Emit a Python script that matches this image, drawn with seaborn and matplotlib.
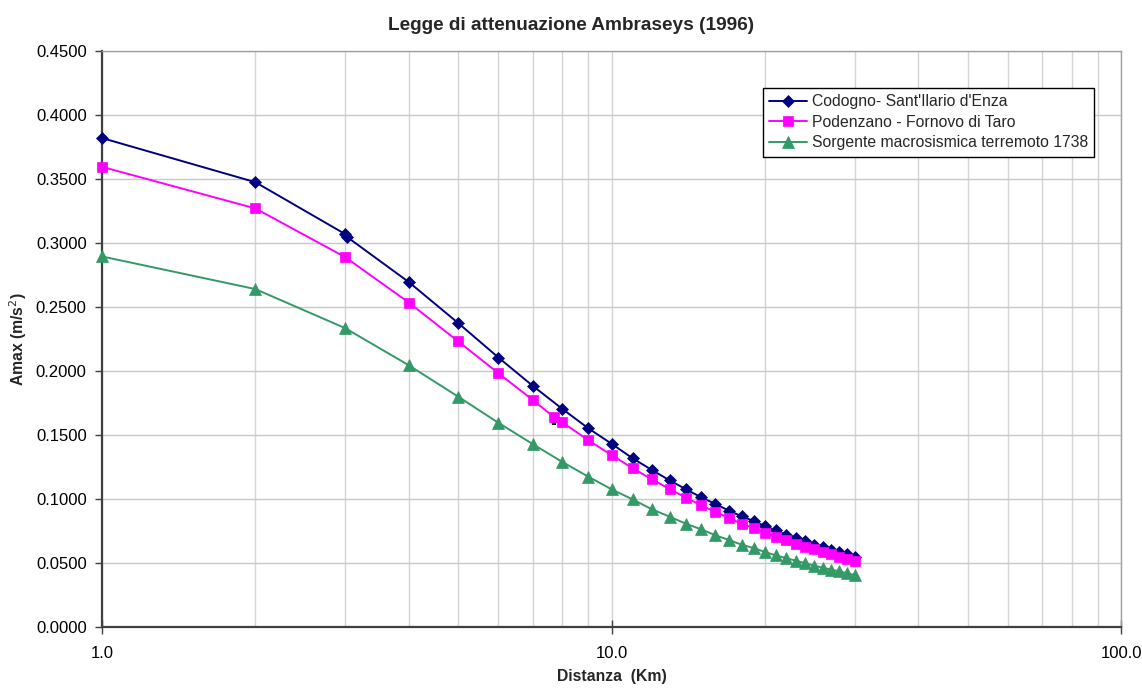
import matplotlib
matplotlib.use("Agg")
import matplotlib.pyplot as plt
import matplotlib.ticker as mticker
import seaborn as sns
import numpy as np

# ---- data ----
labels = ["Codogno- Sant'Ilario d'Enza",
          "Podenzano - Fornovo di Taro",
          "Sorgente macrosismica terremoto 1738"]

x_codogno = [1, 2, 3, 3.02, 4, 5, 6, 7, 8, 9, 10, 11, 12, 13, 14, 15, 16, 17, 18, 19, 20,
             21, 22, 23, 24, 25, 26, 27, 28, 29, 30]
y_codogno = [0.3820, 0.3475, 0.3070, 0.3050, 0.2695, 0.2375, 0.2105, 0.1885, 0.1705, 0.1553,
             0.1432, 0.1318, 0.1227, 0.1146, 0.1076, 0.1013, 0.0961, 0.0909, 0.0865, 0.0828,
             0.0789, 0.0755, 0.0721, 0.0695, 0.0669, 0.0643, 0.0622, 0.0602, 0.0583, 0.0568,
             0.0549]

x_podenzano = [1, 2, 3, 4, 5, 6, 7, 7.72, 8, 9, 10, 11, 12, 13, 14, 15, 16, 17, 18, 19, 20,
               21, 22, 23, 24, 25, 26, 27, 28, 29, 30]
y_podenzano = [0.3595, 0.3270, 0.2890, 0.2535, 0.2232, 0.1982, 0.1775, 0.1638, 0.1600, 0.1460,
               0.1344, 0.1240, 0.1154, 0.1078, 0.1010, 0.0951, 0.0898, 0.0852, 0.0807, 0.0773,
               0.0737, 0.0706, 0.0680, 0.0651, 0.0628, 0.0607, 0.0586, 0.0568, 0.0549, 0.0534,
               0.0513]

x_sorgente = [1, 2, 3, 4, 5, 6, 7, 8, 9, 10, 11, 12, 13, 14, 15, 16, 17, 18, 19, 20,
              21, 22, 23, 24, 25, 26, 27, 28, 29, 30]
y_sorgente = [0.2895, 0.2640, 0.2335, 0.2045, 0.1800, 0.1595, 0.1430, 0.1290, 0.1175, 0.1076,
              0.0997, 0.0920, 0.0862, 0.0807, 0.0763, 0.0716, 0.0680, 0.0643, 0.0617, 0.0586,
              0.0560, 0.0539, 0.0518, 0.0498, 0.0479, 0.0463, 0.0448, 0.0435, 0.0420, 0.0406]

x_stray = [7.72]
y_stray = [0.1590]

title = "Legge di attenuazione Ambraseys (1996)"
xlabel = "Distanza  (Km)"
ylabel = "Amax (m/s$^2$)"
yticks = [0.0, 0.05, 0.10, 0.15, 0.20, 0.25, 0.30, 0.35, 0.40, 0.45]
xticks = [1, 10, 100]

# ---- style ----
sns.set_theme(style="white")
plt.rcParams['font.family'] = ['Liberation Sans', 'DejaVu Sans']

fig = plt.figure(figsize=(11.42, 6.88), dpi=100)
ax = fig.add_axes([102/1142, 1 - 627/688, (1121 - 102)/1142, (627 - 51)/688])

series = [
    (x_codogno, y_codogno, "#000080", "D", 6.5),
    (x_podenzano, y_podenzano, "#FF00FF", "s", 7.5),
    (x_sorgente, y_sorgente, "#339966", "^", 8),
]
for (xs, ys, col, mk, ms), lab in zip(series, labels):
    sns.lineplot(x=xs, y=ys, ax=ax, color=col, marker=mk, markersize=ms,
                 markeredgecolor=col, markeredgewidth=0.5, linewidth=1.4,
                 label=lab, sort=False, estimator=None, clip_on=False, zorder=3)

sns.scatterplot(x=x_stray, y=y_stray, ax=ax, color="black", marker="s", s=10,
                edgecolor="black", linewidth=0, legend=False, zorder=2)

ax.set_xscale("log")
ax.set_xlim(1, 100)
ax.set_ylim(0, 0.45)
ax.set_yticks(yticks)
ax.yaxis.set_major_formatter(mticker.FormatStrFormatter("%.4f"))
ax.set_xticks(xticks)
ax.xaxis.set_major_formatter(mticker.FormatStrFormatter("%.1f"))
ax.xaxis.set_minor_locator(mticker.LogLocator(base=10, subs=np.arange(2, 10)))
ax.xaxis.set_minor_formatter(mticker.NullFormatter())

ax.grid(True, which="major", axis="y", color="#c8c8c8", linewidth=1.0)
ax.grid(True, which="both", axis="x", color="#d4d4d4", linewidth=1.0)
ax.set_axisbelow(True)

for side in ["left", "bottom"]:
    ax.spines[side].set_color("#404040")
    ax.spines[side].set_linewidth(1.6)
    ax.spines[side].set_zorder(2.5)
for side in ["top", "right"]:
    ax.spines[side].set_color("#a0a0a0")
    ax.spines[side].set_linewidth(1.0)

ax.tick_params(axis="y", which="major", direction="out", length=5, width=1,
               color="#404040", labelsize=12, pad=6, left=True)
ax.tick_params(axis="x", which="major", direction="inout", length=10, width=1,
               color="#404040", labelsize=12, pad=9, bottom=True)
ax.tick_params(axis="x", which="minor", length=0)
for t in ax.get_yticklabels() + ax.get_xticklabels():
    t.set_color("black")

ax.set_xlabel(xlabel, fontsize=11.3, fontweight="bold", va="center")
ax.xaxis.set_label_coords(0.5, -(677 - 627) / 576)
ax.set_ylabel(ylabel, fontsize=11.3, fontweight="bold", va="center")
ax.yaxis.set_label_coords(-(102 - 18) / 1019, 0.5)
fig.text(571 / 1142, 1 - 26 / 688, title, ha="center", va="center",
         fontsize=13.7, fontweight="bold")

leg = ax.legend(loc="upper right", bbox_to_anchor=(1094/1142, 1 - 88/688),
                bbox_transform=fig.transFigure, fontsize=11.3, frameon=True,
                fancybox=False, edgecolor="black", framealpha=1,
                borderpad=0.4, labelspacing=0.35, handlelength=2.4,
                handletextpad=0.3, borderaxespad=0)
leg.get_frame().set_linewidth(1.0)
leg.set_zorder(5)

fig.savefig("out.png", dpi=100, facecolor="white")
